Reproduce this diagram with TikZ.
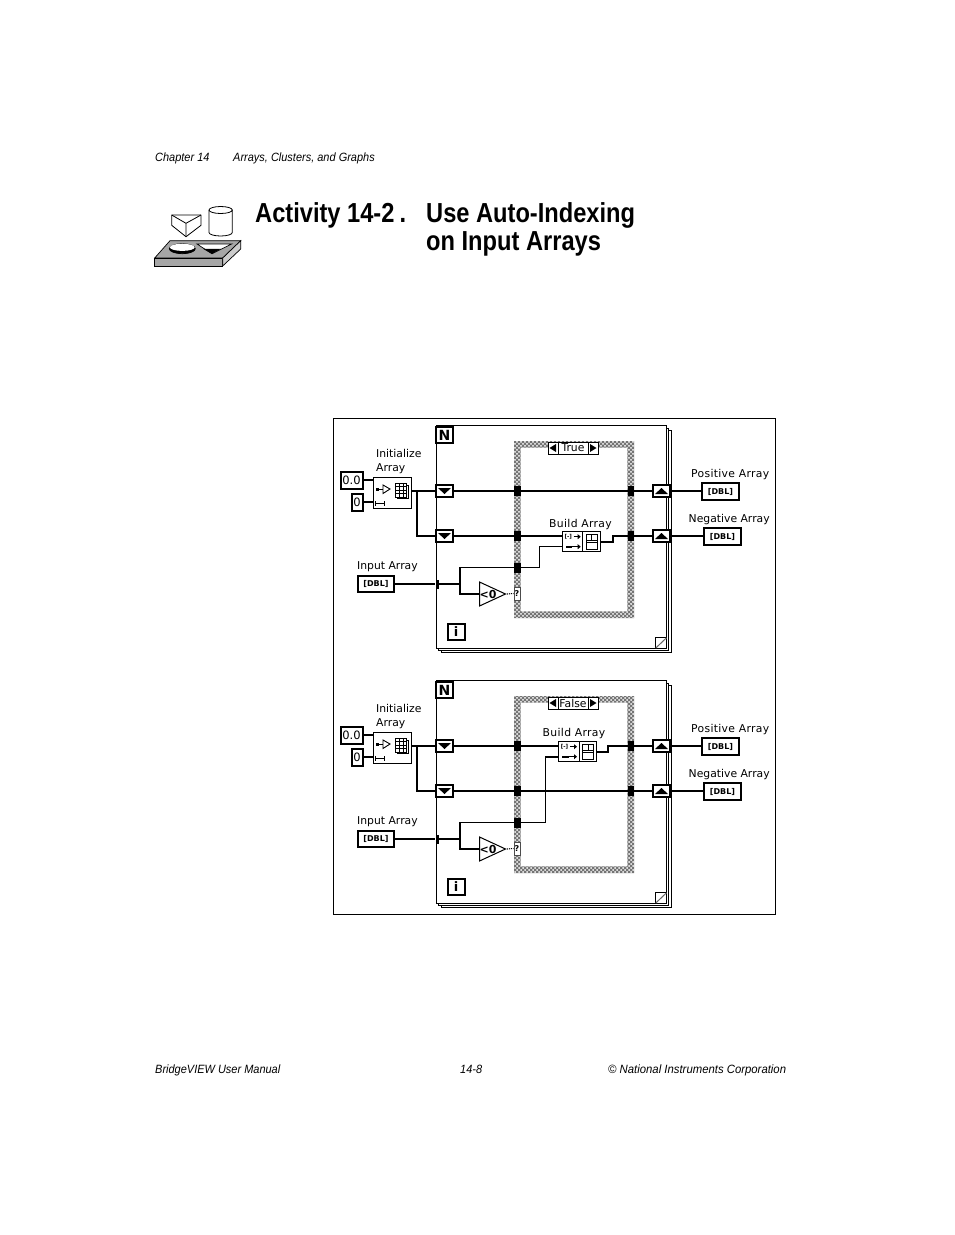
\documentclass[tikz,border=0pt]{standalone}
\usepackage{fontspec}
\usepackage{tikz}
\usetikzlibrary{patterns,shapes.geometric}

\newfontfamily\bookfont[FakeStretch=0.915]{Liberation Sans}
\newfontfamily\bookwidefont[FakeStretch=0.945]{Liberation Sans}
\newfontfamily\titlefont[FakeStretch=0.86]{Liberation Sans Bold}
\newfontfamily\vifont{DejaVu Sans}
\newfontfamily\viwidefont[LetterSpace=3]{DejaVu Sans}
\newfontfamily\viboldfont{DejaVu Sans Bold}

\pgfdeclarepatternformonly{vichecks}{\pgfqpoint{-1pt}{-1pt}}{\pgfqpoint{5pt}{5pt}}{\pgfqpoint{4pt}{4pt}}{
	\pgfpathcircle{\pgfqpoint{1pt}{1pt}}{1pt}
	\pgfpathcircle{\pgfqpoint{3pt}{3pt}}{1pt}
	\pgfusepath{fill}
}

\newcommand{\buildicon}[1]{
	\begin{scope}[shift={(#1)}]
		\draw[line width=1] (1.5,-10) -- (1.5,10);
		\node[font=\viboldfont\fontsize{5.5}{6}\selectfont,inner sep=0] at (-13,-5) {[-]};
		\draw[line width=1] (-7.5,-5) -- (-3,-5);
		\fill (-3.5,-7.5) -- (-0.5,-5) -- (-3.5,-2.5) -- cycle;
		\fill (-15.5,3.8) rectangle (-9,6);
		\draw[line width=1] (-9,5) -- (-3,5);
		\fill (-3.5,2.5) -- (-0.5,5) -- (-3.5,7.5) -- cycle;
		\draw[line width=0.9] (5,-7.5) rectangle (16,7.5);
		\draw[line width=0.8] (5,-1) -- (16,-1) (5,1) -- (16,1) (10.5,-7.5) -- (10.5,-1);
	\end{scope}
}

\tikzset{
	bookline/.style={font=\bookfont\fontsize{12}{14}\selectfont\itshape,inner sep=0,anchor=base west},
	headline/.style={font=\titlefont\fontsize{27.5}{30}\selectfont,inner sep=0,anchor=base west},
	vilabel/.style={font=\vifont\fontsize{10.8}{12}\selectfont,inner sep=0,anchor=base west},
	vilabelwide/.style={vilabel,font=\viwidefont\fontsize{10.8}{12}\selectfont},
	boldwire/.style={line width=2.3},
	thinwire/.style={line width=1.1},
	viblock/.style={draw,fill=white,line width=1,inner sep=0},
	heavybox/.style={draw,fill=white,line width=2,inner sep=0},
	constbox/.style={heavybox,font=\vifont\fontsize{11.5}{12}\selectfont},
	indicator/.style={viblock,line width=1.2,font=\viboldfont\fontsize{8}{9}\selectfont,minimum width=37,minimum height=17},
	control/.style={heavybox,font=\viboldfont\fontsize{8}{9}\selectfont,minimum width=36,minimum height=16},
	tunneldown/.style={heavybox,minimum width=17,minimum height=12,
		path picture={\fill[black] (path picture bounding box.center) ++(-6.5,-3) -- ++(13,0) -- ++(-6.5,6) -- cycle;}},
	tunnelup/.style={heavybox,minimum width=17,minimum height=12,
		path picture={\fill[black] (path picture bounding box.center) ++(-6.5,3) -- ++(13,0) -- ++(-6.5,-6) -- cycle;}},
	casetunnel/.style={fill=black,inner sep=0,minimum width=7,minimum height=10},
	selcell/.style={viblock,minimum height=12},
	selleft/.style={selcell,minimum width=10,
		path picture={\fill[black] (path picture bounding box.center) ++(3,-4) -- ++(0,8) -- ++(-6.5,-4) -- cycle;}},
	selright/.style={selcell,minimum width=10,
		path picture={\fill[black] (path picture bounding box.center) ++(-3,-4) -- ++(0,8) -- ++(6.5,-4) -- cycle;}},
	lessnode/.style={isosceles triangle,isosceles triangle stretches,draw,fill=white,line width=1,inner sep=0,
		minimum width=24,minimum height=26,anchor=lower side}
}

\begin{document}
\begin{tikzpicture}[x=1pt,y=-1pt]
	\fill[white] (0,0) rectangle (954,1235);
	\useasboundingbox (0,0) rectangle (954,1235);

	\node[bookline] (chapter) at (155,161.5) {Chapter 14};
	\node[bookline] (section) at (233,161.5) {Arrays, Clusters, and Graphs};
	\node[headline] (activity) at (255,222) {Activity 14-2\kern5pt.};
	\node[headline] (titleA) at (426,222) {Use Auto-Indexing};
	\node[headline] (titleB) at (426,250) {on Input Arrays};
	\node[bookline] (manual) at (155,1073.5) {BridgeVIEW User Manual};
	\node[bookline] (pageno) at (460,1073.5) {14-8};
	\node[bookline,font=\bookwidefont\fontsize{12}{14}\selectfont\itshape] (corp) at (608,1073.5) {\textcopyright{} National Instruments Corporation};

	\draw[line width=0.7,fill=black!35] (154.7,258) -- (170,240.7) -- (240.7,240.7) -- (222.7,258) -- cycle;
	\draw[line width=0.7,fill=black!35] (154.7,258) -- (222.7,258) -- (222.7,266) -- (154.7,266) -- cycle;
	\draw[line width=0.7,fill=black!20] (222.7,258) -- (240.7,240.7) -- (240.7,249) -- (222.7,266) -- cycle;
	\draw[line width=0.7,fill=black] (182.3,248.7) ellipse (13 and 5);
	\fill[white] (182.3,247.3) ellipse (12.4 and 3.6);
	\draw[line width=0.7,fill=white] (197,244) -- (231.7,244) -- (212,253.8) -- cycle;
	\fill (203,248.8) -- (221,248.8) -- (212,253.8) -- cycle;
	\draw[line width=0.8,line join=round] (171.7,215) -- (201,215) -- (201,225.3) -- (186,236.7) -- (171.7,225.3) -- cycle;
	\draw[line width=0.8,line join=round] (171.7,215) -- (186,223.3) -- (201,215) (186,223.3) -- (186,236.7);
	\draw[line width=0.8] (209,210) -- (209,232.5) arc[start angle=180,end angle=0,x radius=11.65,y radius=3.5] -- (232.3,210);
	\draw[line width=0.8] (220.65,210) ellipse (11.65 and 3.5);

	\draw[line width=1] (333.5,418.5) rectangle (775.5,914.5);

	\foreach \p/\dy/\casename in {a/0/True,b/255/False}{
		\begin{scope}[shift={(0,\dy)}]
			\draw[line width=1,fill=white] (441,430) rectangle (671,652.3);
			\draw[line width=1,fill=white] (438.5,428) rectangle (668.7,650.2);
			\draw[line width=1,fill=white] (436,425.5) rectangle (666.5,648);
			\draw[line width=1] (655.8,648) -- (655.8,637.8) -- (666.5,637.8);
			\draw[line width=1,black!60] (655.8,648) -- (666.5,637.8);

			\path[fill=black!55,even odd rule] (514,441) rectangle (634,618) (520.7,447.7) rectangle (627.3,611.3);
			\path[pattern=vichecks,pattern color=white,even odd rule] (514,441) rectangle (634,618) (520.7,447.7) rectangle (627.3,611.3);

			\node[selcell,minimum width=30,font=\vifont\fontsize{10.8}{12}\selectfont] (\p-sel) at (573,448) {\casename};
			\node[selleft] (\p-selL) at (553,448) {};
			\node[selright] (\p-selR) at (593,448) {};

			\node[heavybox,minimum width=17,minimum height=16,font=\viboldfont\fontsize{14}{15}\selectfont] (\p-count) at (444.5,435) {N};
			\node[heavybox,minimum width=17,minimum height=16,font=\viboldfont\fontsize{13}{15}\selectfont] (\p-index) at (456,631.5) {i};

			\node[tunneldown] (\p-tunA) at (444.5,491) {};
			\node[tunneldown] (\p-tunB) at (444.5,536) {};
			\node[tunnelup] (\p-outA) at (661.5,491) {};
			\node[tunnelup] (\p-outB) at (661.5,536) {};
			\node[casetunnel] (\p-lA) at (517.5,491) {};
			\node[casetunnel] (\p-lB) at (517.5,536) {};
			\node[casetunnel] (\p-lC) at (517.5,567.5) {};
			\node[casetunnel,minimum width=6.5] (\p-rA) at (631,491) {};
			\node[casetunnel,minimum width=6.5] (\p-rB) at (631,536) {};
			\node[fill=black,inner sep=0,minimum width=3,minimum height=9] (\p-tap) at (437,584) {};

			\node[viblock,minimum width=38,minimum height=31] (\p-init) at (392,492.5) {};
			\coordinate (\p-initO) at (411,491);
			\coordinate (\p-fork) at (417,491);
			\coordinate (\p-initX) at (373,480);
			\coordinate (\p-initY) at (373,502);
			\fill (375.5,487.5) rectangle (378.5,490.5);
			\draw[line width=0.9] (378,489) -- (383,489);
			\draw[line width=0.9] (383,485) -- (390,489) -- (383,493.5) -- cycle;
			\draw[line width=0.9,fill=white] (397.5,485) rectangle (408.7,498.5);
			\draw[line width=0.9,fill=white] (395.7,483.3) rectangle (406.5,497);
			\draw[line width=0.7] (399.3,483.3) -- (399.3,497) (403,483.3) -- (403,497) (395.7,486.7) -- (406.5,486.7) (395.7,490.2) -- (406.5,490.2) (395.7,493.6) -- (406.5,493.6);
			\draw[line width=0.9] (375.3,501) -- (375.3,505.5) (384.5,501) -- (384.5,505.5) (375.3,503.3) -- (384.5,503.3);

			\node[constbox,minimum width=22,minimum height=17] (\p-elem) at (351.5,480) {0.0};
			\node[constbox,minimum width=11,minimum height=17] (\p-size) at (357,502) {0};
			\node[control] (\p-input) at (376,584) {[DBL]};
			\node[indicator] (\p-pos) at (720.5,491.5) {[DBL]};
			\node[indicator] (\p-neg) at (722.5,536.5) {[DBL]};

			\node[lessnode] (\p-less) at (479,594) {};
			\node[font=\viboldfont\fontsize{11}{12}\selectfont,inner sep=0] (\p-lesstext) at (488,594) {<0};
			\node[draw=black!70,fill=white,line width=1,inner sep=0,minimum width=6,minimum height=13,font=\viboldfont\fontsize{8}{9}\selectfont] (\p-cond) at (517,593.5) {?};
			\coordinate (\p-junc) at (460,584);

			\draw[thinwire] (\p-elem.east) -- (\p-initX);
			\draw[thinwire] (\p-size.east) -- (\p-initY);
			\draw[boldwire] (\p-initO) -- (\p-tunA.west);
			\draw[boldwire] (\p-fork) |- (\p-tunB.west);
			\draw[boldwire] (\p-input.east) -- (\p-tap.west);
			\draw[thinwire] (\p-tap.east) -- (\p-junc);
			\draw[thinwire] (\p-junc) |- (\p-lC.west);
			\draw[thinwire] (\p-junc) |- (\p-less.lower side);
			\draw[thinwire,densely dotted] (\p-less.apex) -- (\p-cond.west);
			\draw[line width=1.3] (\p-outA.east) -- (\p-outA.east -| \p-pos.west);
			\draw[line width=1.3] (\p-outB.east) -- (\p-outB.east -| \p-neg.west);

			\node[vilabel] (\p-labI) at (376,457.3) {Initialize};
			\node[vilabel] (\p-labJ) at (376,471) {Array};
			\node[vilabel] (\p-labK) at (357,569.7) {Input Array};
			\node[vilabelwide] (\p-labP) at (691,477.3) {Positive Array};
			\node[vilabel] (\p-labN) at (688.5,522.3) {Negative Array};
		\end{scope}
	}

	\node[viblock,minimum width=38,minimum height=20] (a-build) at (581.2,541.7) {};
	\buildicon{a-build.center}
	\node[vilabelwide] (a-labB) at (549,527.3) {Build Array};
	\coordinate (a-buildX) at (562,536);
	\coordinate (a-buildY) at (562,546.5);
	\draw[boldwire] (a-tunA.east) -- (a-outA.west);
	\draw[boldwire] (a-tunB.east) -- (a-buildX);
	\draw[boldwire] (a-build.east) -- ++(12,0) |- (a-outB.west);
	\draw[thinwire] (a-lC.east) -- ++(18,0) |- (a-buildY);

	\node[viblock,minimum width=38.5,minimum height=20] (b-build) at (577.5,751.7) {};
	\buildicon{b-build.center}
	\node[vilabelwide] (b-labB) at (542.5,736) {Build Array};
	\coordinate (b-buildX) at (558,746);
	\coordinate (b-buildY) at (558,757);
	\draw[boldwire] (b-tunA.east) -- (b-buildX);
	\draw[boldwire] (b-tunB.east) -- (b-outB.west);
	\draw[boldwire] (b-build.east) -- ++(11,0) |- (b-outA.west);
	\draw[thinwire] (b-lC.east) -- ++(24.5,0) |- (b-buildY);
\end{tikzpicture}
\end{document}
